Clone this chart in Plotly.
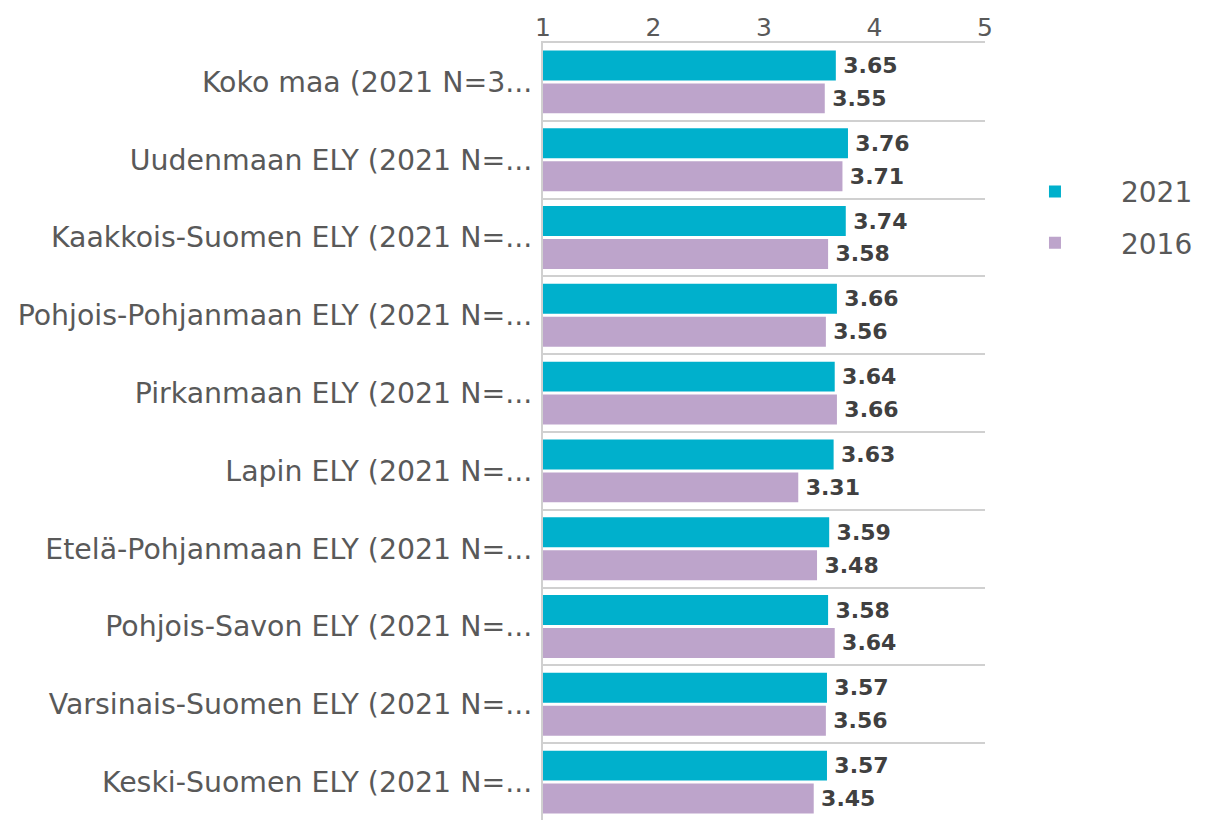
import plotly.graph_objects as go

categories = [
    "Koko maa (2021 N=3...",
    "Uudenmaan ELY (2021 N=...",
    "Kaakkois-Suomen ELY (2021 N=...",
    "Pohjois-Pohjanmaan ELY (2021 N=...",
    "Pirkanmaan ELY (2021 N=...",
    "Lapin ELY (2021 N=...",
    "Etelä-Pohjanmaan ELY (2021 N=...",
    "Pohjois-Savon ELY (2021 N=...",
    "Varsinais-Suomen ELY (2021 N=...",
    "Keski-Suomen ELY (2021 N=...",
]
values_2021 = [3.65, 3.76, 3.74, 3.66, 3.64, 3.63, 3.59, 3.58, 3.57, 3.57]
values_2016 = [3.55, 3.71, 3.58, 3.56, 3.66, 3.31, 3.48, 3.64, 3.56, 3.45]
x_ticks = [1, 2, 3, 4, 5]

TEAL = "#00B0CC"
PURPLE = "#BDA4CB"
GREY = "#595959"
DARK = "#404040"
LINE = "#D0D0D0"

fig = go.Figure()
for name, vals, col in [("2021", values_2021, TEAL), ("2016", values_2016, PURPLE)]:
    fig.add_trace(go.Bar(
        name=name, y=categories, x=vals, orientation="h", legendgroup=name,
        marker=dict(color=col, line=dict(width=0)),
        text=[f"\u2009{v:.2f}" for v in vals], textposition="outside",
        textfont=dict(family="DejaVu Sans", size=22, color=DARK, weight="bold"),
        cliponaxis=False,
    ))

fig.update_layout(
    width=1216, height=820,
    margin=dict(l=535, r=239, t=35, b=7),
    paper_bgcolor="white", plot_bgcolor="white",
    barmode="group", bargap=0.154, bargroupgap=0.09,
    font=dict(family="DejaVu Sans", color=GREY),
    legend=dict(x=1.009, y=0.776, xanchor="left", yanchor="middle",
                font=dict(size=28, color=GREY), traceorder="grouped",
                itemwidth=122, tracegroupgap=12),
    showlegend=True,
)
fig.update_xaxes(
    range=[1, 5], side="top", tickvals=x_ticks, ticktext=[str(t) for t in x_ticks],
    showgrid=False, zeroline=False, showline=True, linecolor=LINE, linewidth=2,
    ticks="", automargin=False,
    tickfont=dict(size=25, color=GREY), ticklabelstandoff=-5,
)
fig.update_yaxes(
    autorange="reversed", tickson="boundaries", showgrid=True, automargin=False,
    gridcolor=LINE, gridwidth=2, ticks="", ticklen=0,
    showline=True, linecolor=LINE, linewidth=2,
    tickfont=dict(size=28.4, color=GREY), ticklabelstandoff=3,
)

fig.write_html("out.html")
